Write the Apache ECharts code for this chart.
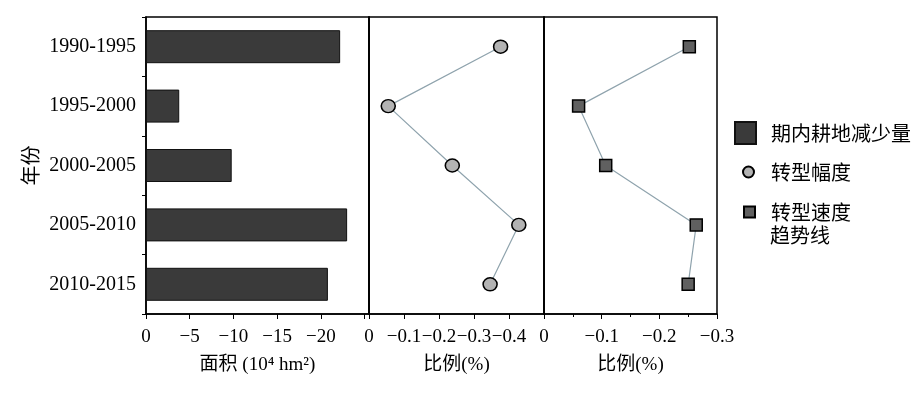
<!DOCTYPE html>
<html>
<head>
<meta charset="utf-8">
<script src="https://cdn.jsdelivr.net/npm/echarts@6/dist/echarts.min.js"></script>
<style>
html,body{margin:0;padding:0;background:#fff;}
#chart{width:924px;height:396px;}
</style>
</head>
<body>
<div id="chart"></div>
<script>
// ---- data ----
const categories = ['1990-1995', '1995-2000', '2000-2005', '2005-2010', '2010-2015'];
// 期内耕地减少量 (10^4 hm^2), negative = reduction
const areaChange = [-22.2, -3.8, -9.8, -23.0, -20.8];
// 转型幅度 (%)
const transAmplitude = [-0.376, -0.055, -0.238, -0.428, -0.346];
// 转型速度趋势线 (%)
const transSpeed = [-0.252, -0.060, -0.107, -0.264, -0.250];
const seriesNames = ['期内耕地减少量', '转型幅度', '转型速度趋势线'];
const axisNames = ['面积 (10\u2074 hm\u00B2)', '比例(%)', '比例(%)'];
const yAxisName = '年份';

// ---- render ----
const FONT = "'Liberation Serif', 'Noto Sans CJK SC', serif";
const CJK = "'Noto Sans CJK SC', 'Liberation Serif', sans-serif";
const neg = v => -v;
const MINUS = '\u2212';

const grids = [
  {left: 146, top: 17, width: 223, height: 297},
  {left: 369, top: 17, width: 175, height: 297},
  {left: 544, top: 17, width: 173, height: 297}
].map(g => Object.assign(g, {show: true, borderColor: '#000', borderWidth: 1.5, backgroundColor: 'transparent'}));

function xAx(i, max, interval, fmt, minor) {
  return {
    type: 'value', gridIndex: i, min: 0, max: max, interval: interval,
    name: axisNames[i], nameLocation: 'middle', nameGap: 42,
    nameTextStyle: {fontSize: 19, color: '#000', fontFamily: FONT},
    axisLine: {show: true, lineStyle: {color: '#000', width: 1.5}},
    axisTick: {show: true, length: 5, lineStyle: {color: '#000', width: 1}},
    minorTick: minor ? {show: true, splitNumber: 2, length: 3, lineStyle: {color: '#000', width: 1}} : {show: false},
    axisLabel: {show: true, formatter: fmt, margin: 14, fontSize: 19, color: '#000', fontFamily: FONT,
      showMinLabel: true, showMaxLabel: true},
    splitLine: {show: false}
  };
}

const option = {
  animation: false,
  backgroundColor: '#fff',
  grid: grids,
  xAxis: [
    xAx(0, 25.5, 5, v => (v === 0 ? '0' : (Math.abs(v % 5) > 1e-6 || v >= 25 ? '' : MINUS + v))),
    xAx(1, 0.5, 0.1, v => (v === 0 ? '0' : (v > 0.45 ? '' : MINUS + v.toFixed(1)))),
    xAx(2, 0.3, 0.1, v => (v === 0 ? '0' : MINUS + v.toFixed(1)), true)
  ],
  yAxis: [0, 1, 2].map(i => ({
    type: 'category', gridIndex: i, data: categories, inverse: true,
    name: i === 0 ? yAxisName : '', nameLocation: 'middle', nameGap: 106,
    nameTextStyle: {fontSize: 20, color: '#000', fontFamily: CJK},
    axisLine: {show: true, lineStyle: {color: '#000', width: 1.5}},
    axisTick: {show: i === 0, length: 4, lineStyle: {color: '#000', width: 1}},
    axisLabel: {show: i === 0, margin: 10, fontSize: 20, color: '#000', fontFamily: FONT, padding: [5, 0, 0, 0]},
    splitLine: {show: false}
  })),
  legend: [
    {data: [{name: seriesNames[0], icon: 'rect'}], left: 734, top: 121, padding: 0,
     itemWidth: 21, itemHeight: 22, selectedMode: false,
     textStyle: {fontSize: 20, color: '#000', fontFamily: CJK, padding: [0, 0, 0, 10]}},
    {data: [{name: seriesNames[1], icon: 'circle'}], left: 742, top: 162, padding: 0,
     itemWidth: 11, itemHeight: 11, selectedMode: false,
     textStyle: {fontSize: 20, color: '#000', fontFamily: CJK, padding: [0, 0, 0, 12]}},
    {data: [{name: seriesNames[2], icon: 'rect'}], left: 743, top: 202, padding: 0,
     itemWidth: 11, itemHeight: 11, selectedMode: false,
     formatter: n => n.slice(0, 4),
     textStyle: {fontSize: 20, color: '#000', fontFamily: CJK, padding: [0, 0, 0, 11]}}
  ],
  graphic: [
    {type: 'text', left: 770, top: 225, silent: true,
     style: {text: seriesNames[2].slice(4), font: '20px ' + CJK, fill: '#000'}}
  ],
  series: [
    {name: seriesNames[0], type: 'bar', xAxisIndex: 0, yAxisIndex: 0,
     data: areaChange.map(neg), barWidth: 33,
     itemStyle: {color: '#3a3a3a', borderColor: '#111', borderWidth: 1}},
    {name: seriesNames[1], type: 'line', xAxisIndex: 1, yAxisIndex: 1,
     data: transAmplitude.map(neg), symbol: 'circle', symbolSize: [14, 13],
     lineStyle: {color: '#8fa3ad', width: 1.2},
     itemStyle: {color: '#b3b3b3', borderColor: '#000', borderWidth: 1.5}},
    {name: seriesNames[2], type: 'line', xAxisIndex: 2, yAxisIndex: 2,
     data: transSpeed.map(neg), symbol: 'rect', symbolSize: 12,
     lineStyle: {color: '#8fa3ad', width: 1.2},
     itemStyle: {color: '#606060', borderColor: '#000', borderWidth: 1.5}}
  ]
};

const chart = echarts.init(document.getElementById('chart'), null, {renderer: 'canvas'});
chart.setOption(option);
</script>
</body>
</html>
